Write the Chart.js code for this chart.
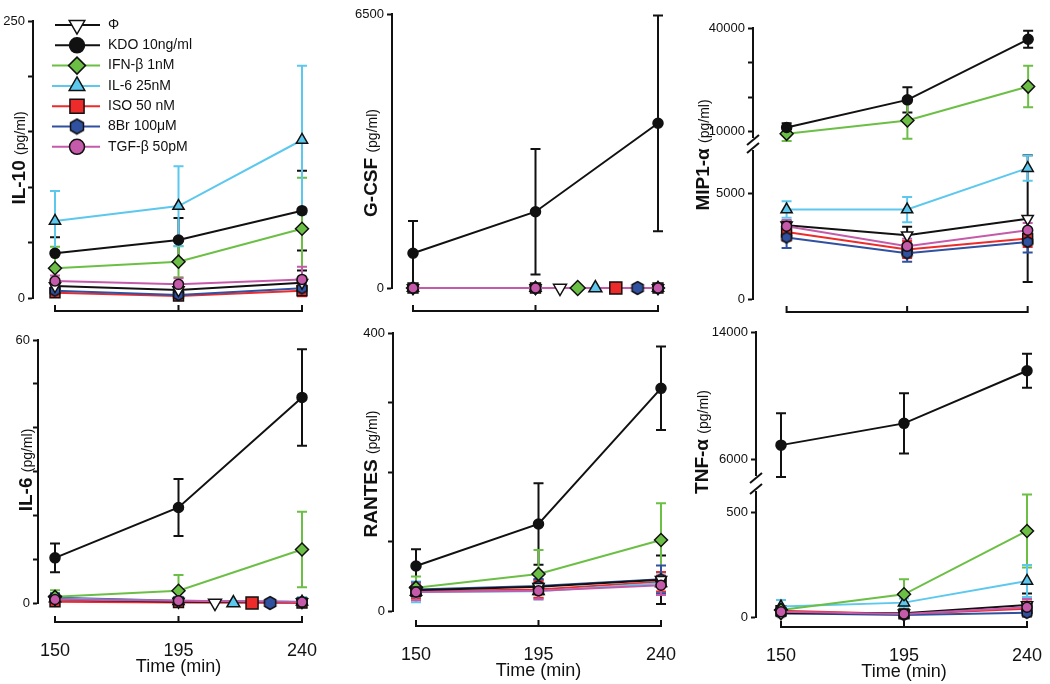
<!DOCTYPE html>
<html>
<head>
<meta charset="utf-8">
<script src="https://cdn.jsdelivr.net/npm/chart.js@4.4.1/dist/chart.umd.min.js"></script>
<style>
  html, body { margin: 0; padding: 0; background: #fff; }
  #wrap { position: relative; width: 1050px; height: 684px; overflow: hidden; }
  #wrap canvas { position: absolute; left: 0; top: 0; }
</style>
</head>
<body>
<div id="wrap"></div>
<script>
var FONT = '"Liberation Sans", Arial, Helvetica, sans-serif';
var INK = '#111';

// time points (min)
var times = [150, 195, 240];
var seriesNames = ['Φ', 'KDO 10ng/ml', 'IFN-β 1nM', 'IL-6 25nM', 'ISO 50 nM', '8Br 100μM', 'TGF-β 50pM'];

// rows: Φ, KDO, IFN-β, IL-6, ISO, 8Br, TGF-β   (mean and error, pg/ml)
var il10Mean = [[10.8, 7.2, 13.8], [40.3, 52.3, 78.8], [26.8, 32.8, 62.5], [69.5, 83, 142.6], [4.8, 1.8, 6.6], [6.6, 2.7, 8.7], [15.3, 12.3, 16.8]];
var il10Err  = [[4, 3, 11], [14.5, 20, 36], [19.5, 14, 46], [27, 36, 67], [4, 2, 5], [4, 3, 5], [5, 5.5, 11.5]];

var gcsfMean = [[0, 0, 0], [823, 1810, 3907], [0, 0, 0], [0, 0, 0], [0, 0, 0], [0, 0, 0], [0, 0, 0]];
var gcsfErr  = [[40, 40, 40], [767, 1490, 2560], [40, 40, 40], [40, 40, 40], [40, 40, 40], [40, 40, 40], [40, 40, 40]];

var mipMean = [[3490, 3020, 3800], [11240, 19230, 36740], [9420, 13260, 23070], [4230, 4230, 6190], [3170, 2340, 2860], [2910, 2160, 2700], [3440, 2500, 3250]];
var mipErr  = [[200, 400, 3000], [1260, 3660, 2480], [2100, 5300, 6000], [390, 600, 600], [400, 400, 400], [500, 400, 500], [300, 350, 350]];

var il6Mean = [[0.8, 0.3, 0.2], [10.3, 21.8, 46.9], [1.4, 2.8, 12.2], [1.0, 0.4, 0.3], [0.3, 0.1, 0], [1.2, 0.5, 0.2], [0.8, 0.5, 0.2]];
var il6Err  = [[1, 1, 1], [3.3, 6.5, 11], [1.5, 3.6, 8.6], [1, 1, 1], [1, 0.5, 0.5], [1, 0.5, 0.5], [1, 0.5, 0.5]];

var rantesMean = [[30, 35, 45], [64.7, 125.2, 320.4], [33.6, 53.2, 102.2], [27.5, 28.5, 40], [28.4, 31, 42], [31, 36, 45.6], [27.5, 29, 37]];
var rantesErr  = [[8, 10, 35], [24, 58.5, 60], [16, 34.6, 53], [15, 12, 15], [10, 12, 14], [10, 10, 20], [12, 12, 14]];

var tnfMean = [[18, 18, 58], [6880, 8250, 11560], [34, 109, 413], [50, 69, 173], [30, 15, 40], [18, 10, 20], [25, 15, 47]];
var tnfErr  = [[10, 8, 55], [2000, 1890, 1070], [15, 72, 175], [32, 20, 77], [10, 8, 35], [8, 6, 15], [8, 6, 40]];

// y ticks and the ones that carry a label
var il10Ticks = [0, 50, 100, 150, 200, 250], il10TickLabels = [0, 250];
var gcsfTicks = [0, 6500], gcsfTickLabels = [0, 6500];
var mipHighTicks = [10000, 20000, 30000, 40000], mipHighTickLabels = [10000, 40000];
var mipLowTicks = [0, 5000], mipLowTickLabels = [0, 5000];
var il6Ticks = [0, 10, 20, 30, 40, 50, 60], il6TickLabels = [0, 60];
var rantesTicks = [0, 100, 200, 300, 400], rantesTickLabels = [0, 400];
var tnfHighTicks = [6000, 14000], tnfHighTickLabels = [6000, 14000];
var tnfLowTicks = [0, 500], tnfLowTickLabels = [0, 500];

// symbol keys sitting on the zero line (series index, time position)
var gcsfKeySeries = [0, 2, 3, 4, 5], gcsfKeyX = [204, 210.5, 217, 224.5, 232.5];
var il6KeySeries = [0, 3, 4, 5], il6KeyX = [208.3, 215, 221.8, 228.4];

function makeHexagon(r, color) {
  var s = Math.ceil(2 * r + 3);
  var c = document.createElement('canvas');
  c.width = s; c.height = s;
  var g = c.getContext('2d');
  g.beginPath();
  for (var k = 0; k < 6; k++) {
    var a = Math.PI / 2 + k * Math.PI / 3;
    var px = s / 2 + r * Math.cos(a), py = s / 2 + r * Math.sin(a);
    if (k) g.lineTo(px, py); else g.moveTo(px, py);
  }
  g.closePath();
  g.fillStyle = color; g.fill();
  g.lineWidth = 1.5; g.strokeStyle = INK; g.stroke();
  return c;
}

var BLUE = '#3050a0';
var styles = [
  { line: INK, fill: '#fff', shape: 'triangle', rot: 180, r: 6.5, rK: 7.5, rL: 9 },
  { line: INK, fill: INK, shape: 'circle', r: 5, rK: 6, rL: 7.5 },
  { line: '#6cbf45', fill: '#6cbf45', shape: 'rectRot', r: 6.5, rK: 7.5, rL: 8.5 },
  { line: '#5cc8ee', fill: '#5cc8ee', shape: 'triangle', r: 6.5, rK: 7.5, rL: 9 },
  { line: '#ee2b2b', fill: '#ee2b2b', shape: 'rect', r: 7, rK: 8.5, rL: 10 },
  { line: BLUE, fill: BLUE, shape: makeHexagon(5.5, BLUE), shapeK: makeHexagon(6.5, BLUE), shapeL: makeHexagon(7.5, BLUE), r: 5.5, rK: 6.5, rL: 7.5 },
  { line: '#c65aaa', fill: '#c65aaa', shape: 'circle', r: 5, rK: 6, rL: 7.5 }
];
// lower order is painted on top
var drawOrder = [2, 0, 3, 4, 6, 5, 1];

var panels = [
  { name: 'IL-10', mean: il10Mean, err: il10Err, axisX: 33, x150: 55, x240: 302, bracketY: 311,
    titleX: 25, titleY: 158, legend: true,
    segs: [{ min: 0, max: 250, top: 21, bottom: 298, ticks: il10Ticks, labels: il10TickLabels }] },
  { name: 'G-CSF', mean: gcsfMean, err: gcsfErr, axisX: 392, x150: 413, x240: 658, bracketY: 311,
    titleX: 377, titleY: 163, keySeries: gcsfKeySeries, keyX: gcsfKeyX,
    segs: [{ min: 0, max: 6500, top: 14, bottom: 288, ticks: gcsfTicks, labels: gcsfTickLabels }] },
  { name: 'MIP1-α', mean: mipMean, err: mipErr, axisX: 753, x150: 787, x240: 1031, bracketY: 312,
    titleX: 709, titleY: 155,
    segs: [{ min: 8500, max: 40000, top: 28, bottom: 137, ticks: mipHighTicks, labels: mipHighTickLabels },
           { min: 0, max: 7000, top: 151, bottom: 299, ticks: mipLowTicks, labels: mipLowTickLabels }] },
  { name: 'IL-6', mean: il6Mean, err: il6Err, axisX: 38, x150: 55, x240: 302, bracketY: 622,
    titleX: 32, titleY: 470, xLabels: true, keySeries: il6KeySeries, keyX: il6KeyX,
    segs: [{ min: 0, max: 60, top: 340, bottom: 603, ticks: il6Ticks, labels: il6TickLabels }] },
  { name: 'RANTES', mean: rantesMean, err: rantesErr, axisX: 393, x150: 416, x240: 661, bracketY: 626,
    titleX: 377, titleY: 474, xLabels: true,
    segs: [{ min: 0, max: 400, top: 333, bottom: 611, ticks: rantesTicks, labels: rantesTickLabels }] },
  { name: 'TNF-α', mean: tnfMean, err: tnfErr, axisX: 756, x150: 781, x240: 1027, bracketY: 627,
    titleX: 708, titleY: 442, xLabels: true,
    segs: [{ min: 5000, max: 14000, top: 332, bottom: 475, ticks: tnfHighTicks, labels: tnfHighTickLabels },
           { min: 0, max: 600, top: 492, bottom: 617, ticks: tnfLowTicks, labels: tnfLowTickLabels }] }
];

var errorBars = {
  id: 'errorBars',
  beforeDatasetsDraw: function (chart) {
    var ctx = chart.ctx, xs = chart.scales.x, ys = chart.scales.y;
    chart.data.datasets.forEach(function (ds) {
      if (!ds.errors) return;
      ctx.save();
      ctx.strokeStyle = ds.borderColor;
      ctx.lineWidth = 2;
      ds.data.forEach(function (p, j) {
        var e = ds.errors[j];
        if (!e) return;
        var x = xs.getPixelForValue(p.x);
        var y1 = ys.getPixelForValue(p.y + e), y2 = ys.getPixelForValue(p.y - e);
        ctx.beginPath();
        ctx.moveTo(x, y1); ctx.lineTo(x, y2);
        ctx.moveTo(x - 5, y1); ctx.lineTo(x + 5, y1);
        ctx.moveTo(x - 5, y2); ctx.lineTo(x + 5, y2);
        ctx.stroke();
      });
      ctx.restore();
    });
  }
};

function drawTitle(ctx, name, baseX, cy) {
  ctx.save();
  ctx.translate(baseX, cy);
  ctx.rotate(-Math.PI / 2);
  ctx.fillStyle = INK;
  ctx.textBaseline = 'alphabetic';
  ctx.textAlign = 'left';
  ctx.font = 'bold 19px ' + FONT;
  var w1 = ctx.measureText(name + ' ').width;
  ctx.font = '14px ' + FONT;
  var w2 = ctx.measureText('(pg/ml)').width;
  var x0 = -(w1 + w2) / 2;
  ctx.font = 'bold 19px ' + FONT;
  ctx.fillText(name, x0, 0);
  ctx.font = '14px ' + FONT;
  ctx.fillText('(pg/ml)', x0 + w1, 0);
  ctx.restore();
}

function decorations(p) {
  return {
    id: 'deco',
    afterDraw: function (chart) {
      var ctx = chart.ctx, xs = chart.scales.x;
      ctx.save();
      ctx.strokeStyle = INK; ctx.lineWidth = 2;
      // bracket-style x axis
      var by = p.bracketY;
      ctx.beginPath();
      ctx.moveTo(xs.getPixelForValue(times[0]) - 1, by);
      ctx.lineTo(xs.getPixelForValue(times[times.length - 1]) + 1, by);
      times.forEach(function (t) {
        var x = xs.getPixelForValue(t);
        ctx.moveTo(x, by + 1); ctx.lineTo(x, by - 6);
      });
      ctx.stroke();
      // axis break marks
      if (p.segs.length > 1) {
        var ax = p.axisX;
        [p.segs[0].bottom + 3, p.segs[1].top - 3].forEach(function (cy) {
          ctx.beginPath();
          ctx.moveTo(ax - 6, cy + 5); ctx.lineTo(ax + 6, cy - 5);
          ctx.stroke();
        });
      }
      ctx.fillStyle = INK;
      if (p.xLabels) {
        ctx.textAlign = 'center'; ctx.textBaseline = 'middle';
        ctx.font = '18px ' + FONT;
        times.forEach(function (t) { ctx.fillText(String(t), xs.getPixelForValue(t), by + 29); });
        ctx.fillText('Time (min)', xs.getPixelForValue(times[1]), by + 45);
      }
      drawTitle(ctx, p.name, p.titleX, p.titleY);
      if (p.legend) {
        ctx.font = '14px ' + FONT; ctx.textAlign = 'left'; ctx.textBaseline = 'middle';
        seriesNames.forEach(function (label, i) {
          var st = styles[i], y = 25 + i * 20.3;
          ctx.strokeStyle = st.line; ctx.lineWidth = 2;
          ctx.beginPath(); ctx.moveTo(i < 2 ? 55 : 52, y); ctx.lineTo(100, y); ctx.stroke();
          ctx.fillStyle = st.fill; ctx.strokeStyle = INK; ctx.lineWidth = 1.5;
          Chart.helpers.drawPoint(ctx, { pointStyle: st.shapeL || st.shape, rotation: st.rot || 0, radius: st.rL, borderWidth: 1.5 }, 77, y);
          ctx.fillStyle = INK;
          ctx.fillText(label, 108, y);
        });
      }
      ctx.restore();
    }
  };
}

var AXIS_W = 70;

function makeChart(p, seg, isBase) {
  var canvas = document.createElement('canvas');
  canvas.width = 1050; canvas.height = 684;
  document.getElementById('wrap').appendChild(canvas);

  var pxPerMin = (p.x240 - p.x150) / 90;
  var rightEdge = p.x240 + 14;
  var xmin = 150 - (p.x150 - p.axisX) / pxPerMin;
  var xmax = 240 + (rightEdge - p.x240) / pxPerMin;

  var datasets = [];
  p.mean.forEach(function (vals, i) {
    var lo = Math.min.apply(null, vals), hi = Math.max.apply(null, vals);
    if (hi > seg.max || lo < seg.min) return; // lives in the other axis segment
    var st = styles[i];
    datasets.push({
      label: seriesNames[i],
      data: times.map(function (t, j) { return { x: t, y: vals[j] }; }),
      errors: p.err[i],
      borderColor: st.line,
      borderWidth: 2,
      tension: 0,
      pointStyle: st.shape,
      pointRotation: st.rot || 0,
      pointRadius: st.r,
      pointBackgroundColor: st.fill,
      pointBorderColor: INK,
      pointBorderWidth: 1.5,
      order: drawOrder[i],
      clip: false
    });
  });
  if (isBase && p.keySeries) {
    datasets.push({
      label: 'key',
      data: p.keyX.map(function (x) { return { x: x, y: 0 }; }),
      showLine: false,
      pointStyle: p.keySeries.map(function (i) { return styles[i].shapeK || styles[i].shape; }),
      pointRotation: p.keySeries.map(function (i) { return styles[i].rot || 0; }),
      pointRadius: p.keySeries.map(function (i) { return styles[i].rK; }),
      pointBackgroundColor: p.keySeries.map(function (i) { return styles[i].fill; }),
      pointBorderColor: INK,
      pointBorderWidth: 1.5,
      order: -1,
      clip: false
    });
  }

  var plugins = [errorBars];
  if (isBase) plugins.push(decorations(p));

  return new Chart(canvas, {
    type: 'line',
    data: { datasets: datasets },
    plugins: plugins,
    options: {
      responsive: false,
      animation: false,
      devicePixelRatio: 1,
      events: [],
      layout: { padding: { left: Math.max(0, p.axisX - AXIS_W), right: 1050 - rightEdge, top: seg.top, bottom: 684 - seg.bottom } },
      plugins: { legend: { display: false }, tooltip: { enabled: false } },
      scales: {
        x: { type: 'linear', display: false, min: xmin, max: xmax },
        y: {
          type: 'linear', position: 'left', min: seg.min, max: seg.max,
          afterFit: function (s) { s.width = Math.min(AXIS_W, p.axisX); },
          afterBuildTicks: function (s) { s.ticks = seg.ticks.map(function (v) { return { value: v }; }); },
          border: { display: true, color: INK, width: 2 },
          grid: { drawOnChartArea: false, drawTicks: true, tickLength: 5, tickColor: INK, tickWidth: 2, color: INK },
          ticks: {
            autoSkip: false, padding: 3, color: INK,
            font: { family: FONT, size: 13 },
            callback: function (v) { return seg.labels.indexOf(v) >= 0 ? String(v) : ''; }
          }
        }
      }
    }
  });
}

panels.forEach(function (p) {
  p.segs.forEach(function (seg, k) {
    makeChart(p, seg, k === p.segs.length - 1);
  });
});
</script>
</body>
</html>
